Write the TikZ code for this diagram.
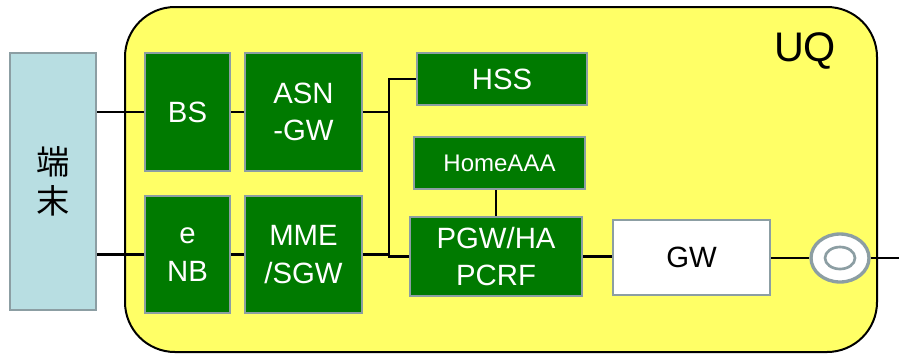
\documentclass[tikz,border=0pt]{standalone}
\usepackage{fontspec}
\setmainfont{Liberation Sans}
\newfontfamily\jpfont{Noto Sans CJK JP}
\usetikzlibrary{positioning, calc, shapes.geometric}

\definecolor{uqyellow}{HTML}{FFFF66}
\definecolor{boxgreen}{HTML}{007A00}
\definecolor{edgegray}{HTML}{8C9EA3}
\definecolor{termblue}{HTML}{B8DEE2}

\begin{document}
\begin{tikzpicture}[
  x=0.75pt, y=-0.75pt,
  line width=1.5pt,
  font=\fontsize{22}{28}\selectfont,
  sz/.style 2 args={minimum width=#1*0.75pt, minimum height=#2*0.75pt},
  unit/.style={draw=edgegray, line width=2pt, fill=boxgreen, text=white,
    align=center, inner sep=0pt},
  gwbox/.style={draw=edgegray, line width=2pt, fill=white, align=center, inner sep=0pt},
  link/.style={draw=black, line width=1.8pt}
  ]
  \useasboundingbox (0,0) rectangle (899,355);

  % --- UQ の枠 ---
  \draw [fill=uqyellow, line width=1.5pt, rounded corners=37.5pt] (125,7) rectangle (877,352);
  \node (uq) at (805,51) {\fontsize{31}{31}\selectfont UQ};

  % --- 端末 ---
  \node [draw=edgegray, line width=2pt, fill=termblue, sz={86}{257}, align=center,
    font=\jpfont\fontsize{25}{29}\selectfont] (term) at (53,181.5) {端\\末};

  % --- 上段 (WiMAX) ---
  \node [unit, sz={85}{118}] (bs) at (187.5,112) {BS};
  \node [unit, sz={117}{118}] (asn) at (303.5,112) {ASN\\-GW};

  % --- 下段 (LTE) ---
  \node [unit, sz={85}{117}] (enb) at (187.5,254.5) {e\\NB};
  \node [unit, sz={117}{117}] (mme) at (303.5,254.5) {MME\\/SGW};

  % --- コア ---
  \node [unit, sz={170}{52}] (hss) at (502,79) {HSS};
  \node [unit, sz={171}{52}, font=\fontsize{18}{22}\selectfont] (aaa) at (499.5,163) {HomeAAA};
  \node [unit, sz={172}{79}] (pgw) at (496,256.5) {PGW/HA\\PCRF};
  \node [gwbox, sz={157}{75}] (gw) at (691.5,257.5) {GW};

  % 外部との接続口
  \node [ellipse, draw=edgegray, line width=2.5pt, fill=white, sz={58}{48}, inner sep=0pt] (port) at (840,258) {};
  \node [ellipse, draw=edgegray, line width=2pt, sz={30}{22}, inner sep=0pt] (porthole) at (port.center) {};

  \coordinate (trunk) at (389,0);
  \coordinate (out) at (899,258);

  % --- 接続線 ---
  \draw [link] (bs.west -| term.east) -- (bs.west);
  \draw [link] (bs) -- (asn);
  \draw [link] (enb.west -| term.east) -- (enb.west);
  \draw [link] (enb) -- (mme);
  \draw [link] (asn.east) -- (asn.east -| trunk);
  \draw [link] (mme.east) -- (mme.east -| trunk);
  \draw [link] (hss.west) -| (trunk |- pgw.west) -- (pgw.west);
  \draw [link] (pgw.north |- aaa.south) -- (pgw.north);
  \draw [link] (pgw.east) -- (gw.west |- pgw.east);
  \draw [link] (gw.east |- port.west) -- (port.west);
  \draw [link] (port.east) -- (out);

\end{tikzpicture}
\end{document}
